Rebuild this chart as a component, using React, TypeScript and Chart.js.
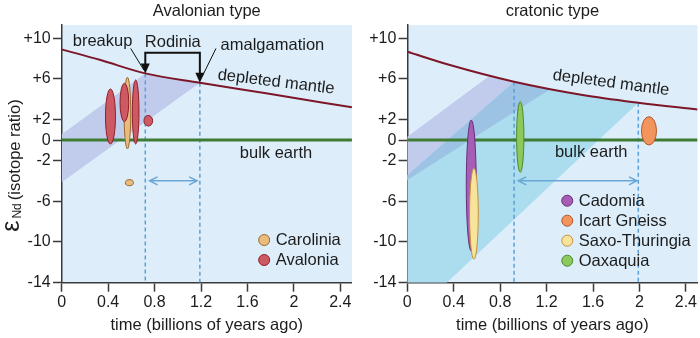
import React, { useEffect, useRef } from "react";
import { Chart, registerables } from "chart.js";

Chart.register(...registerables);

const FONT = '"Liberation Sans", Arial, Helvetica, sans-serif';
const TEXT = "#1c1c1c";
const AXIS = "#3a3a3a";
const BG = "#ddeefa";
const DM_COLOR = "#7d1628";
const GREEN = "#3e7b33";
const DASH = "#5b9fd6";
const SPAN = "#6aa6d6";

// ---- axes ----
const xTickValues = [0, 0.4, 0.8, 1.2, 1.6, 2, 2.4];
const xTickLabels = ["0", "0.4", "0.8", "1.2", "1.6", "2", "2.4"];
const yTickValues = [10, 6, 2, 0, -2, -6, -10, -14];
const yTickLabels = ["+10", "+6", "+2", "0", "-2", "-6", "-10", "-14"];
const X_MIN = 0;
const X_MAX = 2.5;
const Y_MIN = -14;
const Y_MAX = 11.3;

// ---- bulk earth (both panels) ----
const bulkEarthTime = [0, 2.5];
const bulkEarthEps = [0, 0];

// ---- Avalonian panel ----
const avDmTime = [0, 0.334, 0.72, 1.19, 1.76, 2.5];
const avDmEps = [8.91, 7.86, 6.55, 5.63, 4.59, 3.22];
const avBand = [[0, 0.57], [0.72, 6.55], [0.95, 6.05], [1.19, 5.63], [0, -4.15]];
const avMarkerTime = [0.72, 1.19]; // breakup, amalgamation
const avMarkerEps = [6.55, 5.63];
const avSpan = [0.757, 1.166, -4.0];
// [time, epsMin, epsMax, width (Ga)]
const carolinia = [[0.566, -0.87, 6.17, 0.057], [0.583, -4.48, -3.88, 0.069]];
const avalonia = [
  [0.42, -0.38, 5.02, 0.086],
  [0.54, 1.81, 5.58, 0.075],
  [0.637, -0.38, 5.9, 0.057],
  [0.746, 1.38, 2.42, 0.075],
];

// ---- cratonic panel ----
const crDmTime = [0, 0.367, 0.92, 1.51, 1.99, 2.5];
const crDmEps = [8.68, 7.37, 5.73, 4.43, 3.67, 3.0];
const crPurpleBand = [[0, 0.34], [0.7, 6.25], [0.92, 5.73], [1.23, 5.0], [0, -3.92]];
const crCyanBand = [[0, -3.45], [0.92, 5.73], [1.2, 5.06], [1.51, 4.43], [1.99, 3.67], [0.34, -14], [0, -14]];
const crOverlapBand = [[0, -3.45], [0.92, 5.73], [1.05, 5.42], [1.23, 5.0], [0, -3.92]];
const crMarkerTime = [0.92, 1.99];
const crMarkerEps = [5.73, 3.67];
const crSpan = [0.956, 1.978, -4.0];
const cadomia = [[0.551, -10.9, 1.97, 0.086]];
const saxoThuringia = [[0.574, -11.7, -2.77, 0.075]];
const oaxaquia = [[0.973, -3.16, 3.77, 0.063]];
const icartGneiss = [[2.082, -0.48, 2.3, 0.129]];

type Series = { name: string; data: number[][]; fill: string; stroke: string };
type TextItem = { text: string; x: number; y: number; rot?: number; base?: CanvasTextBaseline };

interface PanelSpec {
  title: string;
  dmTime: number[];
  dmEps: number[];
  bands: { pts: number[][]; color: string }[];
  markerTime: number[];
  markerEps: number[];
  span: number[];
  drawSeries: Series[];
  legendSeries: Series[];
  legendAt: number[];
  texts: TextItem[];
  bracket: boolean;
  yTitle: boolean;
  yWidth: number;
  padRight: number;
}

const RED: Series = { name: "Avalonia", data: avalonia, fill: "#cd5a62", stroke: "#8e1f2a" };
const TAN: Series = { name: "Carolinia", data: carolinia, fill: "#e9bb7c", stroke: "#9c6b2c" };
const PURPLE: Series = { name: "Cadomia", data: cadomia, fill: "#a65db4", stroke: "#6b2d7d" };
const YELLOW: Series = { name: "Saxo-Thuringia", data: saxoThuringia, fill: "#f8e39b", stroke: "#c2913d" };
const GREENE: Series = { name: "Oaxaquia", data: oaxaquia, fill: "#8dc85a", stroke: "#4c8a2c" };
const ORANGE: Series = { name: "Icart Gneiss", data: icartGneiss, fill: "#f2955c", stroke: "#b4552b" };

const avalonianSpec: PanelSpec = {
  title: "Avalonian type",
  dmTime: avDmTime,
  dmEps: avDmEps,
  bands: [{ pts: avBand, color: "#c1cbec" }],
  markerTime: avMarkerTime,
  markerEps: avMarkerEps,
  span: avSpan,
  drawSeries: [TAN, RED],
  legendSeries: [TAN, RED],
  legendAt: [1.744, -9.81],
  texts: [
    { text: "breakup", x: 0.352, y: 9.19 },
    { text: "Rodinia", x: 0.957, y: 9.17 },
    { text: "amalgamation", x: 1.815, y: 8.85 },
    { text: "depleted mantle", x: 1.846, y: 5.7, rot: 7, base: "middle" },
    { text: "bulk earth", x: 1.846, y: -1.79 },
  ],
  bracket: true,
  yTitle: true,
  yWidth: 61.7,
  padRight: 0,
};

const cratonicSpec: PanelSpec = {
  title: "cratonic type",
  dmTime: crDmTime,
  dmEps: crDmEps,
  bands: [
    { pts: crPurpleBand, color: "#c1cbec" },
    { pts: crCyanBand, color: "#abddef" },
    { pts: crOverlapBand, color: "#9dc3e4" },
  ],
  markerTime: crMarkerTime,
  markerEps: crMarkerEps,
  span: crSpan,
  drawSeries: [PURPLE, YELLOW, GREENE, ORANGE],
  legendSeries: [PURPLE, ORANGE, YELLOW, GREENE],
  legendAt: [1.378, -5.95],
  texts: [
    { text: "depleted mantle", x: 1.755, y: 5.61, rot: 7.5, base: "middle" },
    { text: "bulk earth", x: 1.584, y: -1.69 },
  ],
  bracket: false,
  yTitle: false,
  yWidth: 54.3,
  padRight: 2.5,
};

function makeDecor(spec: PanelSpec) {
  return {
    id: "decor",
    beforeDraw(chart: any) {
      const { ctx, chartArea: a } = chart;
      ctx.save();
      ctx.fillStyle = BG;
      ctx.fillRect(a.left, a.top, a.right - a.left, a.bottom - a.top);
      ctx.restore();
    },
    beforeDatasetsDraw(chart: any) {
      const { ctx, chartArea: a } = chart;
      const xs = chart.scales.x;
      const ys = chart.scales.y;
      ctx.save();
      ctx.beginPath();
      ctx.rect(a.left, a.top, a.right - a.left, a.bottom - a.top);
      ctx.clip();
      for (const b of spec.bands) {
        ctx.beginPath();
        b.pts.forEach((p, i) => {
          const X = xs.getPixelForValue(p[0]);
          const Y = ys.getPixelForValue(p[1]);
          if (i) ctx.lineTo(X, Y);
          else ctx.moveTo(X, Y);
        });
        ctx.closePath();
        ctx.fillStyle = b.color;
        ctx.fill();
      }
      ctx.setLineDash([4, 3]);
      ctx.strokeStyle = DASH;
      ctx.lineWidth = 1.5;
      spec.markerTime.forEach((t, i) => {
        const X = xs.getPixelForValue(t);
        ctx.beginPath();
        ctx.moveTo(X, ys.getPixelForValue(spec.markerEps[i]));
        ctx.lineTo(X, a.bottom);
        ctx.stroke();
      });
      ctx.restore();
    },
    afterDatasetsDraw(chart: any) {
      const { ctx, chartArea: a } = chart;
      const xs = chart.scales.x;
      const ys = chart.scales.y;
      const P = (x: number, y: number) => [xs.getPixelForValue(x), ys.getPixelForValue(y)];
      ctx.save();
      ctx.beginPath();
      ctx.rect(a.left, a.top, a.right - a.left, a.bottom - a.top);
      ctx.clip();
      // ellipses
      for (const s of spec.drawSeries) {
        for (const e of s.data) {
          const cx = xs.getPixelForValue(e[0]);
          const hw = Math.abs(xs.getPixelForValue(e[0] + e[3] / 2) - cx);
          const yTop = ys.getPixelForValue(e[2]);
          const yBot = ys.getPixelForValue(e[1]);
          ctx.beginPath();
          ctx.ellipse(cx, (yTop + yBot) / 2, hw, (yBot - yTop) / 2, 0, 0, Math.PI * 2);
          ctx.fillStyle = s.fill;
          ctx.fill();
          ctx.lineWidth = 1;
          ctx.strokeStyle = s.stroke;
          ctx.stroke();
        }
      }
      // double arrow span
      {
        const [x1, y] = P(spec.span[0], spec.span[2]);
        const [x2] = P(spec.span[1], spec.span[2]);
        ctx.strokeStyle = SPAN;
        ctx.lineWidth = 1.5;
        ctx.beginPath();
        ctx.moveTo(x1, y);
        ctx.lineTo(x2, y);
        ctx.moveTo(x1 + 8, y - 4);
        ctx.lineTo(x1, y);
        ctx.lineTo(x1 + 8, y + 4);
        ctx.moveTo(x2 - 8, y - 4);
        ctx.lineTo(x2, y);
        ctx.lineTo(x2 - 8, y + 4);
        ctx.stroke();
      }
      // bracket (Rodinia)
      if (spec.bracket) {
        const topY = ys.getPixelForValue(8.58);
        ctx.strokeStyle = "#111";
        ctx.fillStyle = "#111";
        ctx.lineWidth = 2;
        const tips = spec.markerTime.map((t, i) => P(t, spec.markerEps[i]));
        ctx.beginPath();
        ctx.moveTo(tips[0][0], tips[0][1] - 8);
        ctx.lineTo(tips[0][0], topY);
        ctx.lineTo(tips[1][0], topY);
        ctx.lineTo(tips[1][0], tips[1][1] - 8);
        ctx.stroke();
        for (const t of tips) {
          ctx.beginPath();
          ctx.moveTo(t[0], t[1]);
          ctx.lineTo(t[0] - 4.5, t[1] - 10);
          ctx.lineTo(t[0] + 4.5, t[1] - 10);
          ctx.closePath();
          ctx.fill();
        }
        ctx.lineWidth = 1;
        const ptrs = [
          [0.594, 9.0, 0.708, 6.87],
          [1.329, 9.0, 1.209, 6.22],
        ];
        for (const p of ptrs) {
          const [ax, ay] = P(p[0], p[1]);
          const [bx, by] = P(p[2], p[3]);
          ctx.beginPath();
          ctx.moveTo(ax, ay);
          ctx.lineTo(bx, by);
          ctx.stroke();
        }
      }
      ctx.restore();

      // texts
      ctx.save();
      ctx.fillStyle = TEXT;
      ctx.font = `16.5px ${FONT}`;
      for (const t of spec.texts) {
        const [X, Y] = P(t.x, t.y);
        ctx.save();
        ctx.translate(X, Y);
        if (t.rot) ctx.rotate((t.rot * Math.PI) / 180);
        ctx.textAlign = "center";
        ctx.textBaseline = t.base || "alphabetic";
        ctx.fillText(t.text, 0, 0);
        ctx.restore();
      }
      // legend
      const [lx, ly0] = P(spec.legendAt[0], spec.legendAt[1]);
      spec.legendSeries.forEach((s, i) => {
        const y = ly0 + i * 20;
        ctx.beginPath();
        ctx.arc(lx, y, 5.5, 0, Math.PI * 2);
        ctx.fillStyle = s.fill;
        ctx.fill();
        ctx.lineWidth = 1;
        ctx.strokeStyle = s.stroke;
        ctx.stroke();
        ctx.fillStyle = TEXT;
        ctx.textAlign = "left";
        ctx.textBaseline = "middle";
        ctx.fillText(s.name, lx + 11.5, y + 0.5);
      });
      // y title with subscript
      if (spec.yTitle) {
        ctx.save();
        ctx.rotate(-Math.PI / 2);
        ctx.textAlign = "left";
        ctx.textBaseline = "alphabetic";
        let tx = -231.7;
        ctx.font = `25px ${FONT}`;
        ctx.fillText("ε", tx, 18.5);
        tx += ctx.measureText("ε").width + 2;
        ctx.font = `12px ${FONT}`;
        ctx.fillText("Nd", tx, 20.5);
        tx += ctx.measureText("Nd").width + 3;
        ctx.font = `16.5px ${FONT}`;
        ctx.fillText("(isotope ratio)", tx, 20);
        ctx.restore();
      }
      ctx.restore();
    },
  };
}

function buildConfig(spec: PanelSpec): any {
  return {
    type: "scatter",
    data: {
      datasets: [
        {
          label: "depleted mantle",
          data: spec.dmTime.map((t, i) => ({ x: t, y: spec.dmEps[i] })),
          showLine: true,
          borderColor: DM_COLOR,
          borderWidth: 2,
          pointRadius: 0,
          cubicInterpolationMode: "monotone",
          fill: false,
        },
        {
          label: "bulk earth",
          data: bulkEarthTime.map((t, i) => ({ x: t, y: bulkEarthEps[i] })),
          showLine: true,
          borderColor: GREEN,
          borderWidth: 3,
          pointRadius: 0,
          fill: false,
        },
      ],
    },
    options: {
      responsive: false,
      animation: false,
      events: [],
      layout: { padding: { left: 0, right: spec.padRight, top: 0, bottom: 0 } },
      plugins: {
        legend: { display: false },
        tooltip: { enabled: false },
        title: {
          display: true,
          text: spec.title,
          fullSize: false,
          color: TEXT,
          font: { family: FONT, size: 16.5, weight: "normal" },
          padding: { top: 1.7, bottom: 3.5 },
        },
      },
      scales: {
        x: {
          type: "linear",
          min: X_MIN,
          max: X_MAX,
          z: 1,
          afterBuildTicks: (s: any) => {
            s.ticks = xTickValues.map((v) => ({ value: v }));
          },
          afterFit: (s: any) => {
            s.height = 338 - 282.7;
          },
          ticks: {
            autoSkip: false,
            maxRotation: 0,
            padding: 1.5,
            color: TEXT,
            font: { family: FONT, size: 16 },
            callback: (v: number) => xTickLabels[xTickValues.indexOf(v)] ?? "",
          },
          grid: { drawOnChartArea: false, drawTicks: true, tickLength: 9, tickColor: AXIS, tickWidth: 1.5, color: AXIS },
          border: { display: true, color: AXIS, width: 1.5 },
          title: {
            display: true,
            text: "time (billions of years ago)",
            color: TEXT,
            font: { family: FONT, size: 16.5 },
            padding: { top: 0, bottom: 3 },
          },
        },
        y: {
          type: "linear",
          min: Y_MIN,
          max: Y_MAX,
          z: 1,
          afterBuildTicks: (s: any) => {
            s.ticks = yTickValues.map((v) => ({ value: v }));
          },
          afterFit: (s: any) => {
            s.width = spec.yWidth;
          },
          ticks: {
            autoSkip: false,
            padding: 2.3,
            color: TEXT,
            font: { family: FONT, size: 16 },
            callback: (v: number) => yTickLabels[yTickValues.indexOf(v)] ?? "",
          },
          grid: { drawOnChartArea: false, drawTicks: true, tickLength: 8.7, tickColor: AXIS, tickWidth: 1.5, color: AXIS },
          border: { display: true, color: AXIS, width: 1.5 },
          title: { display: false },
        },
      },
    },
    plugins: [makeDecor(spec)],
  };
}

function Panel({ spec, left, width }: { spec: PanelSpec; left: number; width: number }) {
  const ref = useRef<HTMLCanvasElement | null>(null);
  useEffect(() => {
    if (!ref.current) return;
    const chart = new Chart(ref.current, buildConfig(spec));
    return () => chart.destroy();
  }, [spec]);
  return (
    <canvas
      ref={ref}
      width={width}
      height={338}
      style={{ position: "absolute", left, top: 0, width, height: 338, display: "block" }}
    />
  );
}

export default function App() {
  return (
    <div style={{ position: "fixed", left: 0, top: 0, width: 700, height: 338, background: "#fff", overflow: "hidden" }}>
      <Panel spec={avalonianSpec} left={0} width={353} />
      <Panel spec={cratonicSpec} left={353} width={347} />
    </div>
  );
}
